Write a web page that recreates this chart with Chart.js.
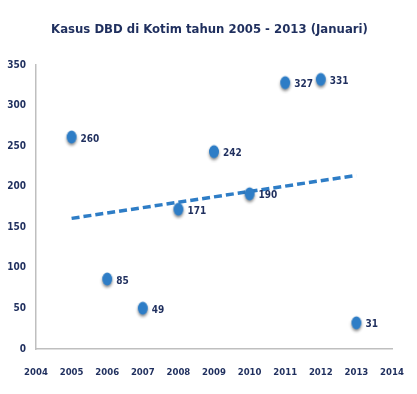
<!DOCTYPE html>
<html>
<head>
<meta charset="utf-8">
<script src="https://cdn.jsdelivr.net/npm/chart.js@4"></script>
<style>
  body { margin: 0; background: #fff; }
  #wrap { width: 417px; height: 394px; }
</style>
</head>
<body>
<div id="wrap"><canvas id="myChart" width="417" height="394"></canvas></div>
<script>
const years = [2005, 2006, 2007, 2008, 2009, 2010, 2011, 2012, 2013];
const cases = [260, 85, 49, 171, 242, 190, 327, 331, 31];
// trend line ends
const trendYears = [2005, 2013];
const trendValues = [161, 214];
const titleText = 'Kasus DBD di Kotim tahun 2005 - 2013 (Januari)';

const navy = '#1F2F5E';
const blue = '#2E7DC6';
const font = '"DejaVu Sans Condensed", "Liberation Sans", sans-serif';

// oval marker with a soft shadow underneath
const dot = document.createElement('canvas');
dot.width = 16; dot.height = 20;
(function () {
  const c = dot.getContext('2d');
  c.shadowColor = 'rgba(0,0,0,0.45)';
  c.shadowBlur = 3;
  c.shadowOffsetY = 2;
  c.fillStyle = blue;
  c.beginPath();
  c.ellipse(8, 9, 5, 6.5, 0, 0, Math.PI * 2);
  c.fill();
})();

// value labels next to the points + title centred on the whole canvas
const extras = {
  id: 'extras',
  afterDatasetsDraw(chart) {
    const ctx = chart.ctx;
    const meta = chart.getDatasetMeta(0);
    ctx.save();
    ctx.font = 'bold 10px ' + font;
    ctx.fillStyle = navy;
    ctx.textBaseline = 'middle';
    meta.data.forEach((pt, i) => {
      ctx.fillText(String(cases[i]), pt.x + 9, pt.y + 1);
    });
    ctx.font = 'bold 13px ' + font;
    ctx.textAlign = 'center';
    ctx.fillText(titleText, chart.width / 2 + 1, 30);
    ctx.restore();
  }
};

new Chart(document.getElementById('myChart'), {
  type: 'scatter',
  data: {
    datasets: [
      {
        label: 'Kasus',
        data: years.map((y, i) => ({ x: y, y: cases[i] })),
        pointStyle: dot,
        order: 1
      },
      {
        type: 'line',
        label: 'Trend',
        data: trendYears.map((y, i) => ({ x: y, y: trendValues[i] })),
        borderColor: blue,
        borderWidth: 3.5,
        borderDash: [8, 4],
        pointRadius: 0,
        fill: false,
        order: 2
      }
    ]
  },
  options: {
    responsive: false,
    animation: false,
    layout: {
      padding: { top: 65, right: 25, bottom: 10, left: 0 }
    },
    plugins: {
      legend: { display: false },
      tooltip: { enabled: false },
      title: { display: false }
    },
    scales: {
      x: {
        type: 'linear',
        min: 2004,
        max: 2014,
        afterFit: s => { s.height = 35; },
        border: { color: '#BFBFBF', width: 1.5 },
        grid: { display: false },
        ticks: {
          stepSize: 1,
          padding: 10,
          color: navy,
          callback: v => String(v),
          font: { family: font, size: 9.5, weight: 'bold' }
        }
      },
      y: {
        min: 0,
        max: 350,
        afterFit: s => { s.width = 36; },
        border: { color: '#BFBFBF', width: 1.5 },
        grid: { display: false },
        ticks: {
          stepSize: 50,
          padding: 2,
          color: navy,
          font: { family: font, size: 10, weight: 'bold' }
        }
      }
    }
  },
  plugins: [extras]
});
</script>
</body>
</html>
